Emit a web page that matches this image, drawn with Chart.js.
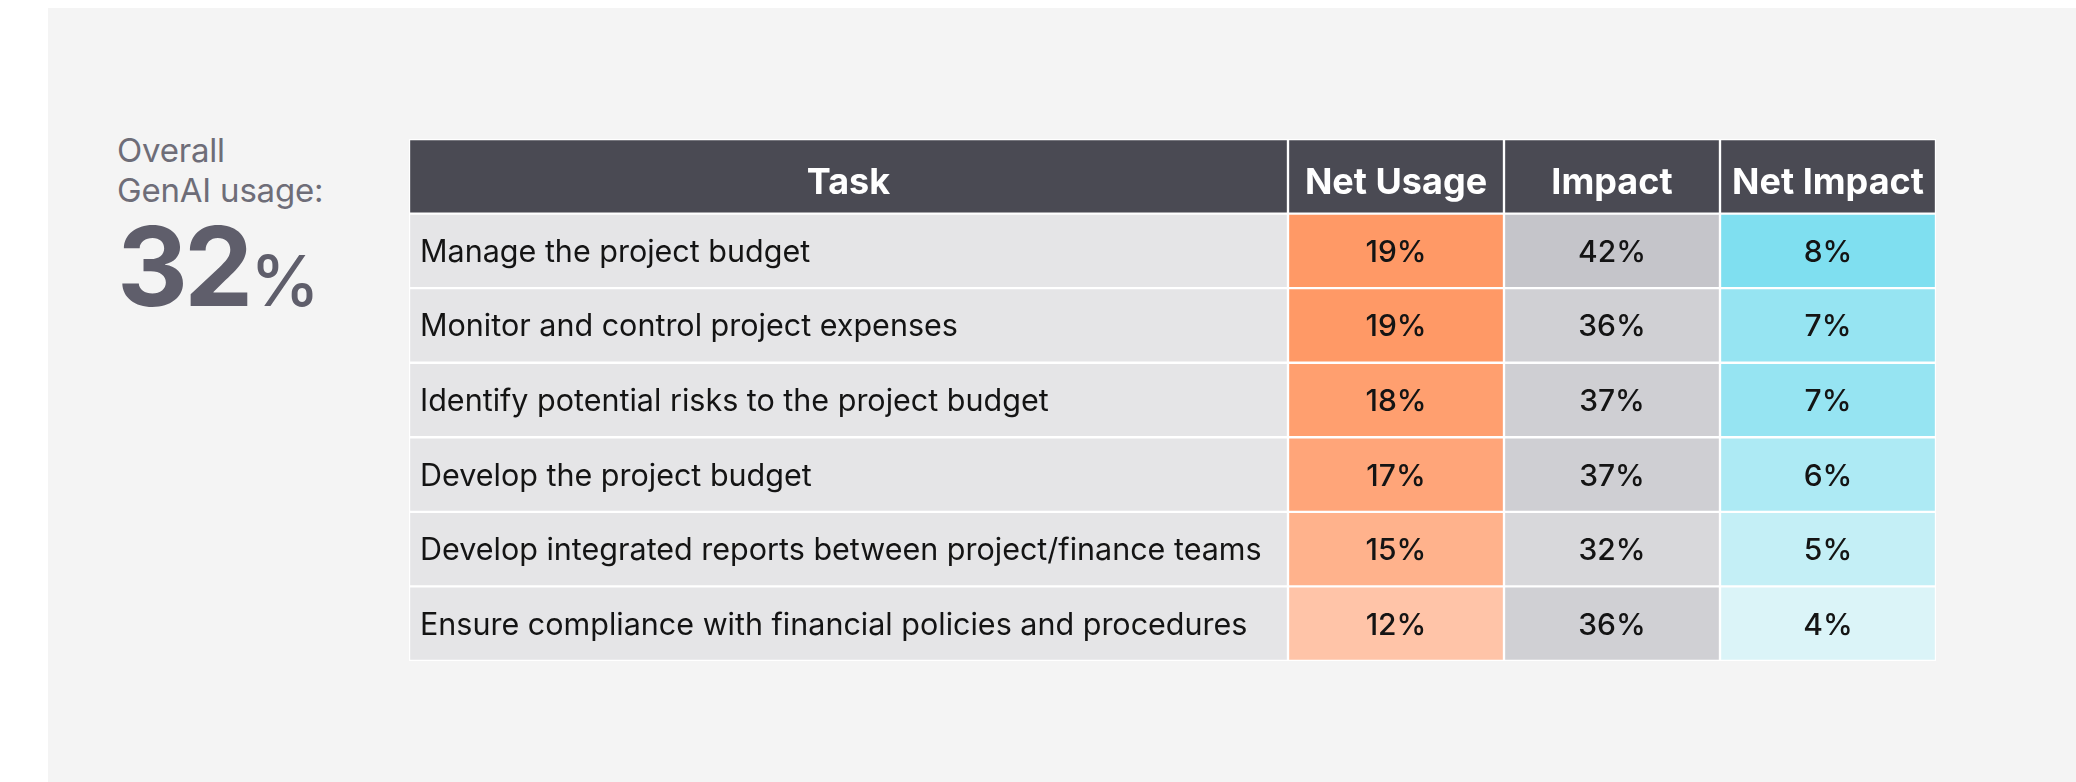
<!DOCTYPE html>
<html>
<head>
<meta charset="utf-8">
<script src="https://cdn.jsdelivr.net/npm/chart.js@4.4.1/dist/chart.umd.min.js"></script>
<style>
	html, body { margin: 0; padding: 0; background: #ffffff; }
	body { width: 2076px; height: 782px; position: relative; overflow: hidden; font-family: Inter, "Noto Sans", sans-serif; }
	#panel { position: absolute; left: 48px; top: 8px; right: 0; bottom: 0; background: #f4f4f4; }
	.side { position: absolute; left: 117px; line-height: 1; white-space: nowrap; }
	.small { font-size: 33px; color: #6e6d78; letter-spacing: -0.2px; }
	.big { top: 211px; font-size: 110px; font-weight: 700; color: #5f5e6b; letter-spacing: -4px; }
	.big span { font-size: 70px; font-weight: 500; letter-spacing: 0; margin-left: 1px; }
	#mycanvas { position: absolute; left: 0; top: 0; }
</style>
</head>
<body>
<div id="panel"></div>
<div class="side small" style="top:134px">Overall</div>
<div class="side small" style="top:174px">GenAI usage:</div>
<div class="side big">32<span>%</span></div>
<canvas id="mycanvas" width="2076" height="782"></canvas>
<script>
var headers = ["Task", "Net Usage", "Impact", "Net Impact"];
var tasks = [
	"Manage the project budget",
	"Monitor and control project expenses",
	"Identify potential risks to the project budget",
	"Develop the project budget",
	"Develop integrated reports between project/finance teams",
	"Ensure compliance with financial policies and procedures"
];
var netUsage = [19, 19, 18, 17, 15, 12];
var impact = [42, 36, 37, 37, 32, 36];
var netImpact = [8, 7, 7, 6, 5, 4];

// table layout (pixels)
var colWidths = [879, 216, 216, 216];
var headerColor = "#4a4a53";
var taskColor = "#e5e5e7";
// light -> dark colour for each value column
var scales = [
	null,
	["#ffc4a8", "#ff9966"],
	["#d8d8db", "#c5c5ca"],
	["#dbf4f8", "#7fdff0"]
];

var values = [null, netUsage, impact, netImpact];
var rows = ["header"].concat(tasks);

function hex(c) {
	return [parseInt(c.substr(1, 2), 16), parseInt(c.substr(3, 2), 16), parseInt(c.substr(5, 2), 16)];
}
function mix(a, b, t) {
	var x = hex(a), y = hex(b);
	var r = [];
	for (var k = 0; k < 3; k++) r.push(Math.round(x[k] + (y[k] - x[k]) * t));
	return "rgb(" + r.join(",") + ")";
}

var edges = [0];
for (var c = 0; c < colWidths.length; c++) edges.push(edges[c] + colWidths[c]);

var datasets = [];
for (var c = 0; c < headers.length; c++) {
	var data = [];
	var colors = [headerColor];
	for (var i = 0; i < rows.length; i++) data.push([edges[c], edges[c + 1]]);
	if (c == 0) {
		for (var i = 0; i < tasks.length; i++) colors.push(taskColor);
	} else {
		var v = values[c];
		var lo = Math.min.apply(null, v), hi = Math.max.apply(null, v);
		for (var i = 0; i < v.length; i++) colors.push(mix(scales[c][0], scales[c][1], (v[i] - lo) / (hi - lo)));
	}
	datasets.push({
		label: headers[c],
		data: data,
		backgroundColor: colors,
		borderColor: "#ffffff",
		borderWidth: 1.5,
		borderSkipped: false,
		barPercentage: 1,
		categoryPercentage: 1,
		grouped: false
	});
}

var cellText = {
	id: "cellText",
	afterDatasetsDraw: function(chart) {
		var ctx = chart.ctx;
		ctx.save();
		for (var c = 0; c < headers.length; c++) {
			var meta = chart.getDatasetMeta(c);
			meta.data.forEach(function(bar, i) {
				var p = bar.getProps(["x", "y", "base"], true);
				var left = Math.min(p.x, p.base), right = Math.max(p.x, p.base);
				if (i == 0) {
					ctx.font = "bold 36px Inter";
					ctx.fillStyle = "#ffffff";
					ctx.textAlign = "center";
					ctx.fillText(headers[c], (left + right) / 2, p.y + 18);
					return;
				}
				ctx.fillStyle = "#141414";
				if (c == 0) {
					ctx.font = "30.5px Inter";
					ctx.textAlign = "left";
					ctx.fillText(tasks[i - 1], left + 11, p.y + 11);
				} else {
					ctx.font = "500 30px Inter";
					ctx.textAlign = "center";
					ctx.fillText(values[c][i - 1] + "%", (left + right) / 2, p.y + 11);
				}
			});
		}
		ctx.restore();
	}
};

var ctx = document.getElementById("mycanvas");
var table = new Chart(ctx, {
	type: "bar",
	data: { labels: rows, datasets: datasets },
	options: {
		indexAxis: "y",
		responsive: false,
		animation: false,
		layout: { padding: { left: 409, right: 140, top: 139, bottom: 121 } },
		plugins: { legend: { display: false }, tooltip: { enabled: false } },
		scales: {
			x: { type: "linear", min: 0, max: edges[edges.length - 1], display: false },
			y: { type: "category", display: false, offset: true }
		}
	},
	plugins: [cellText]
});
</script>
</body>
</html>
